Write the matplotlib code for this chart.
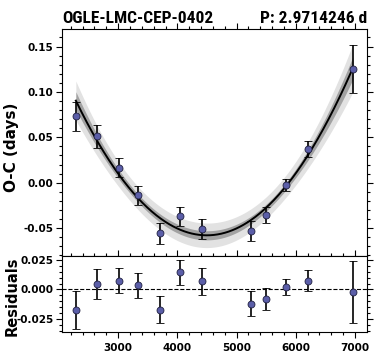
import numpy as np
import matplotlib
matplotlib.use("Agg")
import matplotlib.pyplot as plt
from matplotlib import font_manager
from matplotlib.ticker import MultipleLocator, AutoMinorLocator

plt.rcParams['axes.unicode_minus'] = False

# ---- data ----
epochs = [2285, 2640, 3012, 3333, 3705, 4042, 4414, 5242, 5495, 5833, 6205, 6965]
oc = [0.0730, 0.0514, 0.0165, -0.0139, -0.0557, -0.0370, -0.0510, -0.0529,
      -0.0356, -0.0022, 0.0371, 0.1252]
oc_err = [0.0160, 0.0127, 0.0105, 0.0105, 0.0117, 0.0106, 0.0114, 0.0110,
          0.0092, 0.0068, 0.0088, 0.0262]
resid = [-0.0175, 0.0048, 0.0073, 0.0034, -0.0170, 0.0147, 0.0068, -0.0119,
         -0.0082, 0.0019, 0.0073, -0.0025]
jitter = 0.009
star = "OGLE-LMC-CEP-0402"
period_label = "P: 2.9714246 d"

x = np.array(epochs, float)
y = np.array(oc, float)
e = np.array(oc_err, float)
r = np.array(resid, float)

# quadratic model through the fitted values (observed minus residuals)
model_pts = y - r
coef, cov = np.polyfit(x, model_pts, 2, w=1.0 / e, cov='unscaled')
xx = np.linspace(x.min(), x.max(), 300)
J = np.vstack([xx**2, xx, np.ones_like(xx)]).T
yy = J @ coef
sig = np.sqrt(np.einsum('ij,jk,ik->i', J, cov, J))
outer = np.sqrt((2 * sig) ** 2 + jitter ** 2)

fig = plt.figure(figsize=(3.79, 3.63), dpi=100)
L, R = 62 / 379, 366.7 / 379
top_t, mid, bot = 1 - 29.3 / 363, 1 - 255.7 / 363, 1 - 332.3 / 363
ax = fig.add_axes([L, mid, R - L, top_t - mid])
axr = fig.add_axes([L, bot, R - L, mid - bot], sharex=ax)

ax.fill_between(xx, yy - outer, yy + outer, color='#e2e2e2', lw=0, zorder=1)
ax.fill_between(xx, yy - sig, yy + sig, color='#a2a2a2', lw=0, zorder=2)
ax.plot(xx, yy, color='black', lw=1.4, zorder=3)
ax.errorbar(x, y, yerr=e, fmt='o', ms=5, mfc='#5b5ea8', mec='#202040', mew=0.6,
            ecolor='black', elinewidth=1.2, capsize=3, capthick=1.2, zorder=4)

axr.axhline(0, color='black', lw=0.8, ls='--', zorder=1)
axr.errorbar(x, r, yerr=e, fmt='o', ms=5, mfc='#5b5ea8', mec='#202040', mew=0.6,
             ecolor='black', elinewidth=1.2, capsize=3, capthick=1.2, zorder=4)

ax.set_xlim(2051, 7199)
ax.set_ylim(-0.0804, 0.169)
axr.set_ylim(-0.0363, 0.0286)

ax.yaxis.set_major_locator(MultipleLocator(0.05))
ax.yaxis.set_minor_locator(AutoMinorLocator(5))
axr.yaxis.set_major_locator(MultipleLocator(0.025))
axr.yaxis.set_minor_locator(AutoMinorLocator(5))
axr.xaxis.set_major_locator(MultipleLocator(1000))
axr.xaxis.set_minor_locator(AutoMinorLocator(5))

for a in (ax, axr):
    a.tick_params(which='both', direction='out', left=True, right=True,
                  labelsize=7.5, width=0.8)
    a.tick_params(which='major', length=4)
    a.tick_params(which='minor', length=2.2)
    a.tick_params(axis='y', which='major', pad=2)
    for s in a.spines.values():
        s.set_linewidth(0.8)

ax.tick_params(which='both', top=True, bottom=False, labelbottom=False)
axr.tick_params(which='both', top=True, bottom=True, labelbottom=True)
for a in (ax, axr):
    for lab in a.get_yticklabels() + a.get_xticklabels():
        lab.set_fontweight('bold')

ax.set_ylabel('O-C (days)', fontsize=11, fontweight='bold')
axr.set_ylabel('Residuals', fontsize=10.5, fontweight='bold')
ax.yaxis.set_label_coords(-0.14, 0.48)
axr.yaxis.set_label_coords(-0.14, 0.47)

names = {f.name for f in font_manager.fontManager.ttflist}
if 'Roboto Condensed' in names:
    tfam, tsize = 'Roboto Condensed', 12.5
elif 'Roboto' in names:
    tfam, tsize = 'Roboto', 11.4
else:
    tfam, tsize = 'DejaVu Sans', 10
ty = 1 + 6.0 / (226.4)
ax.text(0.0, ty, star, transform=ax.transAxes, ha='left', va='baseline',
        fontsize=tsize, fontweight='bold', family=tfam)
ax.text(1.0, ty, period_label, transform=ax.transAxes, ha='right', va='baseline',
        fontsize=tsize, fontweight='bold', family=tfam)

fig.savefig('out.png', dpi=100)
